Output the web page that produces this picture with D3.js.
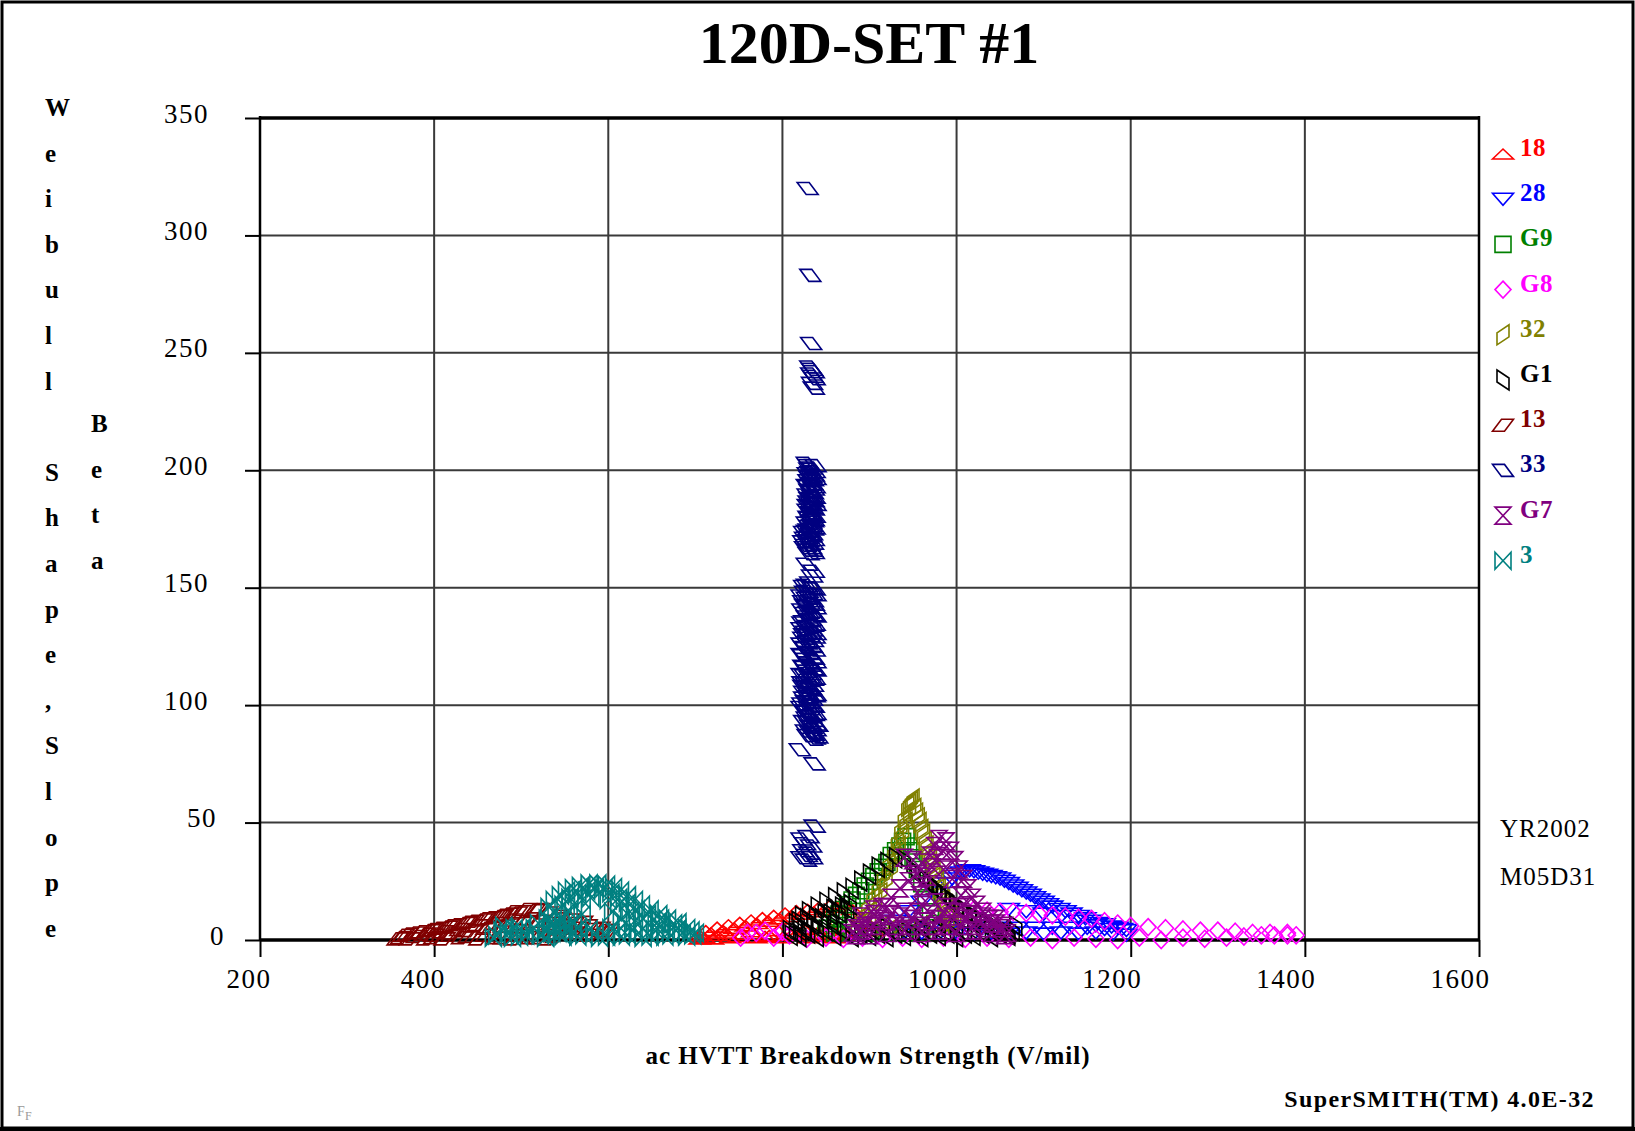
<!DOCTYPE html>
<html>
<head>
<meta charset="utf-8">
<title>120D-SET #1</title>
<script src="https://d3js.org/d3.v7.min.js"></script>
<style>
  body { margin: 0; background: #fff; }
  svg { display: block; font-family: "Liberation Serif", "Times New Roman", serif; }
  .grid line { stroke: #3a3a3a; stroke-width: 2; }
  .axis path { display: none; }
  .axis line { stroke: #000; stroke-width: 2; }
  .axis text { font-size: 27px; letter-spacing: 1.5px; fill: #000; }
</style>
</head>
<body>
<script>
// axis ticks
var xTicks = [200, 400, 600, 800, 1000, 1200, 1400, 1600];
var yTicks = [0, 50, 100, 150, 200, 250, 300, 350];

// series (legend order) - [eta, beta] pairs
var names = ["18", "28", "G9", "G8", "32", "G1", "13", "33", "G7", "3"];
var colors = ["#ff0000", "#0000ff", "#008000", "#ff00ff", "#808000", "#000000", "#800000", "#000080", "#800080", "#008080"];

var s18 = [[710,1],[725,2],[740,1],[755,2.5],[770,1],[785,2],[800,1],[815,2],[830,1],[845,2],[860,1],[875,2],
  [712,4],[725,5.5],[738,6.5],[751,7.5],[764,8.5],[777,9.5],[790,10.5],[803,11.5],[816,12.5],[829,13],[842,14],[855,15],[868,15.5],
  [880,13],[890,10],[898,7],[905,4],
  [705,2],[718,3],[732,4],[745,5],[758,6],[771,7],[784,8],[797,9],[810,10],[823,11],[836,12],[849,13],[862,14],
  [705,0.5],[720,0.5],[735,3],[750,1.5],[765,3.5],[780,1.5],[795,4],[810,2],[825,4.5],[840,3],[855,5],[870,3]];
var s28 = [[1000,28],[1010,29],[1020,29],[1030,28],[1040,27],[1050,26],[1060,24],[1070,22],[1080,20],[1090,18],[1100,16],[1110,14],
  [1125,12],[1140,10],[1155,8],[1170,6.5],[1185,5],[1195,4],[930,8],[945,12],[960,16],[975,20],[990,24],
  [940,3],[960,3],[980,2.5],[1000,3],[1020,2.5],[1040,3],[1060,2.5],[1080,3],[1100,2.5],[1120,3],[1140,2.5],[1160,3],[1180,2.5],[1195,2],
  [1060,13],[1080,12],[1100,11],[1120,10],[1140,8],[1160,6],
  [995,26],[1005,28.5],[1015,29.5],[1025,28.5],[1035,27.5],[1045,26.5],[1055,25],[1065,23],[1075,21],[1085,19],[1095,17],
  [1105,15],[1118,13],[1132,11],[1148,9],[1162,7],[1178,5.5],[1190,4.5],
  [950,5],[970,5],[990,5],[1010,5],[1030,5],[1050,5],[1070,5],[1090,5],[1110,5],[1130,5],[1150,5],[1170,4.5]];
var sG9 = [[850,5],[860,9],[870,13],[880,17],[890,21],[900,25],[910,29],[920,33],[930,38],[938,42],[945,40],[950,35],[955,30],
  [960,24],[965,18],[970,12],[975,7],[860,3],[880,3],[900,3],[920,3],[940,3],[960,3],
  [925,36],[935,40],[942,44],[948,38],[915,31],[905,27],[895,23],[885,19],[875,15],[865,11],[855,7]];
var sG8 = [[752,1],[770,3],[790,1],[808,2],[828,0.5],[850,1],[870,0.5],[892,1],[915,0.5],[938,1],[960,0.5],[985,1],[1010,0.5],
  [1035,1],[1060,0.5],[1085,1],[1110,0],[1135,1],[1160,0.5],[1185,0],[1210,1],[1235,0],[1260,1],[1285,0.5],[1310,1],[1330,1.5],
  [1350,2],[1365,2],[1380,2],[1390,2],[760,3],[780,4],[800,3.5],
  [990,14],[1005,13],[1020,13],[1035,12.5],[1050,12],[1065,12],[1080,11.5],[1095,11],[1110,10.5],[1125,10],[1140,9.5],[1155,9],
  [1170,8],[1185,7],[1200,6],[1220,5.5],[1240,5],[1260,4.5],[1280,4],[1300,4],[1320,3.5],[1340,3],[1360,3],[1380,3]];
var s32 = [[944,57],[948,59],[952,56],[940,52],[936,47],[932,42],[928,37],[922,32],[916,27],[910,22],[904,18],[898,14],[892,10],[886,7],
  [956,52],[960,47],[964,42],[968,37],[972,32],[976,27],[980,22],[985,17],[990,12],[995,8],
  [900,7],[915,6],[930,6],[945,6],[960,6],[975,6],[990,7],
  [946,55],[942,50],[938,45],[934,40],[930,35],[925,30],[919,25],[913,20],[907,16],[901,12],[895,8],
  [954,54],[958,50],[962,45],[966,40],[970,35],[974,30],[978,25],[983,20],[988,15],[993,10],[998,7],[950,60],[946,58]];
var sG1 = [[808,4],[815,7],[822,10],[830,12],[840,14],[850,16],[860,18],[870,20],[880,22],[890,25],[900,28],[910,31],[920,33],[930,35],[940,34],
  [950,30],[960,27],[970,24],[980,21],[990,18],[1000,15],[1010,12],[1020,10],[1030,8],[1040,6],[1050,4],[1058,3],
  [810,2],[820,4],[830,3],[840,5],[850,4],[860,6],[870,4],[880,5],[890,3],[900,4],[910,3],[920,5],[930,3],[940,4],[950,3],
  [960,5],[970,3],[980,4],[990,3],[1000,5],[1010,3],[1020,4],[1030,3],[1040,4],[1050,3],[1060,3],
  [815,3],[825,5],[835,7],[845,9],[855,11],[865,12],[875,13],[818,8],[828,9],[838,10],[848,11],[858,13],[868,14],[878,15],
  [820,1.5],[840,1.5],[860,2],[880,1.5],[900,2],[920,1.5],[940,2],[960,1.5],[980,2],[1000,1.5],[1020,2],[1040,1.5],[1060,2],
  [1065,4],[1068,6],[955,28],[965,25],[975,22],[985,19],[995,16],[1005,13],[1015,11],[1025,9],[1035,7],[1045,5.5]];
var s13 = [[362,1],[380,1.5],[400,1],[420,2],[440,1.5],[460,2],[480,1],[500,2],[520,1],[540,1.5],
  [365,2],[385,3.5],[405,5],[425,6.5],[445,8],[465,9.5],[485,11],[500,12],[515,12.5],[530,11.5],
  [390,2.5],[410,3.5],[430,4.5],[450,6],[470,7],[490,8.5],[510,9],
  [545,9],[560,7],[575,6],[590,5],[600,4],[560,3],[580,2],
  [358,0.5],[372,0.5],[392,0.5],[412,0.5],[432,1],[452,0.5],[472,1],[492,0.5],[512,1],[532,0.5],
  [370,2.5],[395,4],[415,5.5],[435,7],[455,8.5],[475,10],[495,11.5],[505,13],[520,13],
  [378,3],[398,4.5],[418,6],[438,7.5],[458,9],[478,10.5],[490,12],
  [400,2],[420,3],[440,4],[460,5],[480,6],[500,7],[520,8],[535,7],[550,6],[565,5],[580,4.5],[595,4],
  [540,10],[555,8.5],[570,7.5]];
var s33 = [[829,320],[832,283],[833,254],[832,244],[834,243],[836,242],[833,241],[835,240],[837,239],[834,237],[836,235],
  [830,202],[834,201],[832,199],[836,198],[831,197],[835,196],[833,194],[830,193],[836,192],[832,191],[834,189],[831,188],
  [836,187],[833,186],[829,185],[835,184],[832,182],[834,181],[830,180],[836,179],[833,178],[831,176],[835,175],[828,174],
  [834,173],[832,172],[826,171],[830,170],[835,169],[827,168],[833,167],[829,166],[836,165],
  [828,203],[838,202],[831,200.5],[837,199.5],[829,198.5],[833,197.5],[838,196.5],[830,195.5],[834,194.5],[828,193.5],
  [837,193],[831,191.5],[835,190.5],[829,189.5],[837,188.5],[833,187.5],[830,186.5],[838,185.5],[832,184.5],[836,183.5],
  [829,183],[833,181.5],[837,180.5],[831,179.5],[835,178.5],[828,177.5],[834,176.5],[837,175.5],[830,174.5],[825,173.5],
  [833,172.5],[829,171.5],[836,170.5],[824,169.5],[831,168.5],[826,167],[834,166],[830,164.5],
  [828,160],[836,157],[834,155],
  [828,151],[834,150],[826,148],[838,147],[831,146],[824,144],[836,143],[829,142],[833,140],[826,139],[838,138],[831,136],
  [823,135],[835,134],[828,133],[832,131],[825,130],[837,129],[830,127],[822,126],[834,125],[827,124],[831,122],[824,121],
  [836,120],[829,118],[833,117],[826,116],[838,115],[822,113],[831,112],[835,111],[827,109],[824,108],[833,107],[829,105],
  [837,104],[825,103],[831,101],[834,100],[822,99],[828,97],[836,96],[830,95],[825,93],[838,92],[832,91],[827,89],[835,88],
  [829,87],[837,86],
  [832,152],[825,150.5],[837,149.5],[829,148.5],[834,147.5],[822,146.5],[828,145.5],[835,144.5],[831,143.5],[826,142.5],
  [838,141.5],[823,140.5],[830,139.5],[835,138.5],[828,137.5],[833,136.5],[825,135.5],[837,134.5],[830,133.5],[822,132.5],
  [834,132],[827,131],[838,130.5],[831,129.5],[824,128.5],[835,127.5],[828,126.5],[833,125.5],[825,124.5],[837,123.5],
  [830,122.5],[822,121.5],[834,120.5],[827,119.5],[838,118.5],[831,117.5],[824,116.5],[835,115.5],[828,114.5],[833,113.5],
  [826,112.5],[837,111.5],[830,110.5],[823,109.5],[835,108.5],[828,107.5],[832,106.5],[825,105.5],[838,104.5],[830,103.5],
  [834,102.5],[827,101.5],[823,100.5],[836,99.5],[831,98.5],[826,97.5],[838,96.5],[833,95.5],[828,94.5],[835,93.5],
  [830,92.5],[840,91.5],[834,90.5],[838,89.5],[832,88.5],[836,87.5],[840,86.5],[834,85.5],
  [820,81],[837,75],[837,48.5],
  [822,43],[830,44],[826,41],[833,40],[824,38],[831,37],[828,36],[822,35],[834,35],[827,34]];
var sG7 = [[980,43],[988,42],[975,40],[993,38],[970,36],[998,34],[1003,30],[1008,26],[1013,22],[1018,18],[1023,15],[1030,12],
  [1038,9],[1045,7],[1052,5],[1058,3],
  [940,35],[950,34],[960,33],[955,28],[945,25],[935,22],[925,18],[915,14],[905,11],[895,8],[885,5],[880,3],
  [890,4],[905,6],[920,8],[935,10],[950,9],[965,8],[980,9],[995,10],[1010,9],[1025,8],[1040,7],
  [900,2],[920,3],[940,4],[960,3],[980,4],[1000,3],[1020,4],[1040,3],[1055,2],
  [885,2],[895,6],[910,9],[925,11],[940,12],[955,12],[970,11],[985,12],[1000,12],[1015,11],[1030,10],[1045,9],[1055,6],
  [890,10],[905,13],[920,14],[960,15],[975,16],[990,14],[1005,14],[930,6],[945,6],[960,6],[975,6],[990,6],[1005,6],
  [1020,6],[1035,5],[984,38],[978,35],[972,31],[966,27],[962,23],[958,19],[985,30],[995,26],[1005,19]];
var s3 = [[472,2],[485,3],[498,1.5],[510,3.5],[522,2],[535,3],[548,1.5],[560,3.5],[572,2],[585,3],[598,1.5],[610,3.5],[622,2],
  [635,3],[648,1.5],[660,3.5],[672,2],[685,3],[697,2],
  [480,6],[500,5],[520,7],[540,6],[620,7],[640,5],[660,6],[680,5],[695,4],
  [530,9],[540,12],[548,15],[556,18],[565,20],[575,21],[585,22],[595,22],[603,20],[612,18],[622,16],[632,13],[645,11],
  [660,9],[675,7],[690,5],[535,6],[545,9],[555,12],[560,8],[570,11],[605,12],[615,9],[630,8],
  [468,1],[478,4],[490,1],[492,5],[505,2],[515,5],[528,1],[530,4.5],[542,3],[553,5],[565,1.5],[578,4.5],[590,1],[603,5],
  [615,1.5],[628,4.5],[640,1],[653,4.5],[665,1.5],[678,4],[690,1.5],[700,3],
  [532,14],[538,17],[545,19],[552,21],[560,22],[568,23],[578,24],[588,24],[598,23.5],[606,22.5],[614,21],[622,19],[630,17],
  [638,15],[648,13],[658,11],[668,9],[680,7.5],[560,15],[570,17],[580,18],[600,17],[612,15],[625,12],[640,9],[655,7],
  [548,6],[565,5],[535,8],[550,4]];

var seriesData = [s18, s28, sG9, sG8, s32, sG1, s13, s33, sG7, s3];

// marker outlines, one per series
var shapes = [
  "M-10.5,5L0,-5L10.5,5Z",                 // triangle up
  "M-10.5,-6L10.5,-6L0,6Z",                // triangle down
  "M-8,-8H8V8H-8Z",                        // square
  "M0,-8.5L8,0L0,8.5L-8,0Z",               // diamond
  "M-6,-2L6,-10L6,2L-6,10Z",               // tall parallelogram /
  "M-6,-10L6,-2L6,10L-6,2Z",               // tall parallelogram \
  "M-10.5,6L1.5,6L10.5,-6L-1.5,-6Z",       // flat parallelogram /
  "M-10.5,-6L1.5,-6L10.5,6L-1.5,6Z",       // flat parallelogram \
  "M-8,-8.5L8,-8.5L-8,8.5L8,8.5Z",         // hourglass
  "M-8,-8.5L-8,8.5L8,-8.5L8,8.5Z"          // bowtie
];

var W = 1635, H = 1131;
var pLeft = 260, pRight = 1479, pTop = 118, pBottom = 940;

var svg = d3.select("body").append("svg")
    .attr("width", W)
    .attr("height", H);

// outer frame
svg.append("rect")
    .attr("x", 2).attr("y", 2)
    .attr("width", W - 4).attr("height", H - 5)
    .attr("fill", "none").attr("stroke", "#000").attr("stroke-width", 3);
svg.append("line")
    .attr("x1", 0).attr("x2", W).attr("y1", H - 2).attr("y2", H - 2)
    .attr("stroke", "#000").attr("stroke-width", 4);

var x = d3.scaleLinear().domain([200, 1600]).range([pLeft, pRight]);
var y = d3.scaleLinear().domain([0, 350]).range([pBottom, pTop]);

// grid
var grid = svg.append("g").attr("class", "grid");
grid.selectAll(".gx")
    .data(xTicks.slice(1, -1))
  .enter().append("line")
    .attr("x1", function(d) { return x(d); })
    .attr("x2", function(d) { return x(d); })
    .attr("y1", pTop).attr("y2", pBottom);
grid.selectAll(".gy")
    .data(yTicks.slice(1, -1))
  .enter().append("line")
    .attr("x1", pLeft).attr("x2", pRight)
    .attr("y1", function(d) { return y(d); })
    .attr("y2", function(d) { return y(d); });

// axes
var xAxis = svg.append("g")
    .attr("class", "axis")
    .attr("transform", "translate(0," + pBottom + ")")
    .call(d3.axisBottom(x).tickValues(xTicks).tickSize(17).tickPadding(12).tickFormat(d3.format("d")));
xAxis.attr("font-family", null).attr("font-size", null);
xAxis.selectAll("text")
    .attr("text-anchor", "end")
    .attr("dx", "11px");

var yAxis = svg.append("g")
    .attr("class", "axis")
    .attr("transform", "translate(" + pLeft + ",0)")
    .call(d3.axisLeft(y).tickValues(yTicks).tickSize(15).tickPadding(36).tickFormat(d3.format("d")));
yAxis.attr("font-family", null).attr("font-size", null);
yAxis.selectAll("text")
    .attr("dy", "0.15em")
    .attr("dx", function(d) { return ((3 - String(d).length) * 8) + "px"; });

// plot frame
svg.append("line").attr("x1", pLeft).attr("x2", pLeft).attr("y1", pTop - 2).attr("y2", pBottom)
    .attr("stroke", "#000").attr("stroke-width", 2.5);
svg.append("line").attr("x1", pRight).attr("x2", pRight).attr("y1", pTop - 2).attr("y2", pBottom)
    .attr("stroke", "#000").attr("stroke-width", 2.5);
svg.append("line").attr("x1", pLeft).attr("x2", pRight + 1).attr("y1", pTop).attr("y2", pTop)
    .attr("stroke", "#000").attr("stroke-width", 3.5);
svg.append("line").attr("x1", pLeft).attr("x2", pRight + 1).attr("y1", pBottom).attr("y2", pBottom)
    .attr("stroke", "#000").attr("stroke-width", 3.5);

// points
seriesData.forEach(function(data, i) {
  svg.append("g")
    .selectAll("path")
    .data(data)
  .enter().append("path")
    .attr("d", shapes[i])
    .attr("transform", function(d) { return "translate(" + x(d[0]) + "," + y(d[1]) + ")"; })
    .attr("fill", "none")
    .attr("stroke", colors[i])
    .attr("stroke-width", 1.6);
});

// legend
var legend = svg.selectAll(".legend")
    .data(names)
  .enter().append("g")
    .attr("class", "legend")
    .attr("transform", function(d, i) { return "translate(0," + (156 + i * 45.2) + ")"; });
legend.append("path")
    .attr("d", function(d, i) { return shapes[i]; })
    .attr("transform", "translate(1503,-2)")
    .attr("fill", "none")
    .attr("stroke", function(d, i) { return colors[i]; })
    .attr("stroke-width", 1.6);
legend.append("text")
    .attr("x", 1520)
    .attr("y", 0)
    .style("font-size", "25px")
    .style("font-weight", "bold")
    .style("letter-spacing", "0.5px")
    .attr("fill", function(d, i) { return colors[i]; })
    .text(function(d) { return d; });

// titles
svg.append("text")
    .attr("x", 869).attr("y", 63)
    .attr("text-anchor", "middle")
    .style("font-size", "60px").style("font-weight", "bold")
    .text("120D-SET #1");

svg.append("text")
    .attr("x", 868).attr("y", 1064)
    .attr("text-anchor", "middle")
    .style("font-size", "25px").style("font-weight", "bold").style("letter-spacing", "1px")
    .text("ac HVTT Breakdown Strength (V/mil)");

var yTitle1 = "Weibull Shape,Slope".split("");
var yTitle2 = "Beta".split("");
svg.append("g").selectAll("text")
    .data(yTitle1)
  .enter().append("text")
    .attr("x", 45)
    .attr("y", function(d, i) { return 116 + i * 45.6; })
    .style("font-size", "25px").style("font-weight", "bold")
    .text(function(d) { return d; });
svg.append("g").selectAll("text")
    .data(yTitle2)
  .enter().append("text")
    .attr("x", 91)
    .attr("y", function(d, i) { return 432 + i * 45.6; })
    .style("font-size", "25px").style("font-weight", "bold")
    .text(function(d) { return d; });

svg.append("text").attr("x", 1500).attr("y", 837)
    .style("font-size", "25px").style("letter-spacing", "1px")
    .text("YR2002");
svg.append("text").attr("x", 1500).attr("y", 885)
    .style("font-size", "25px").style("letter-spacing", "1px")
    .text("M05D31");

svg.append("text").attr("x", 1595).attr("y", 1107)
    .attr("text-anchor", "end")
    .style("font-size", "24px").style("font-weight", "bold").style("letter-spacing", "1.4px")
    .text("SuperSMITH(TM) 4.0E-32");

svg.append("text").attr("x", 17).attr("y", 1116)
    .style("font-size", "14px").attr("fill", "#999")
    .text("F");
svg.append("text").attr("x", 25).attr("y", 1120)
    .style("font-size", "12px").attr("fill", "#999")
    .text("F");
</script>
</body>
</html>
